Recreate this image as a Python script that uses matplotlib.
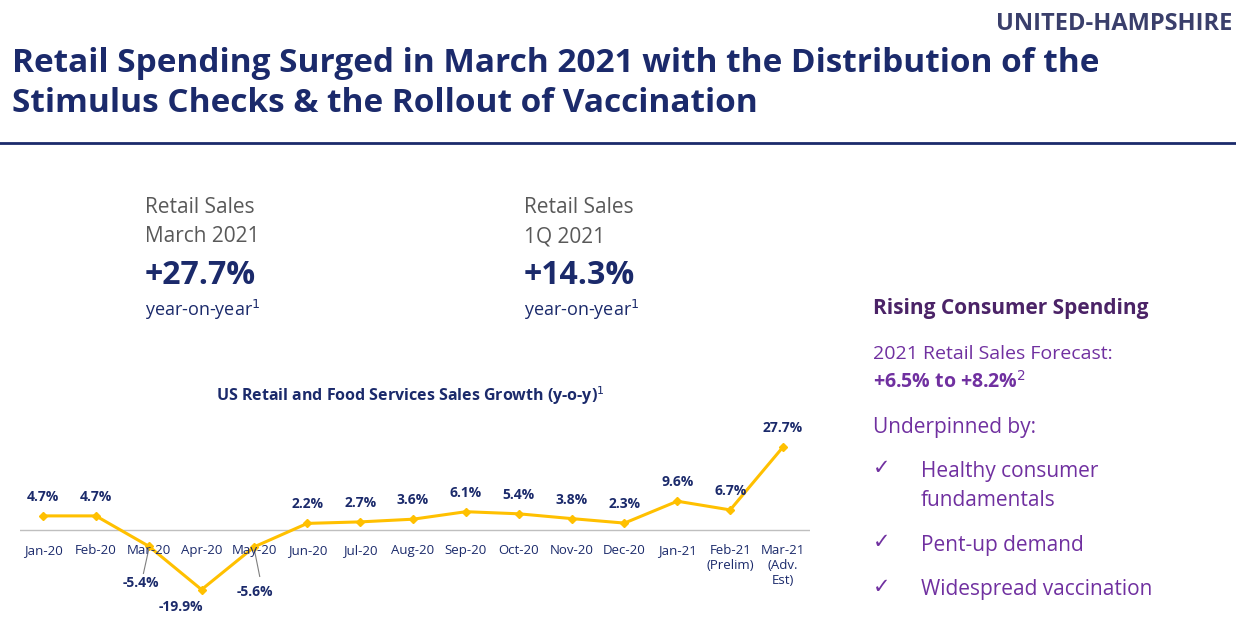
import matplotlib
matplotlib.use("Agg")
import matplotlib.pyplot as plt

months = ["Jan-20","Feb-20","Mar-20","Apr-20","May-20","Jun-20","Jul-20","Aug-20","Sep-20","Oct-20","Nov-20","Dec-20","Jan-21","Feb-21\n(Prelim)","Mar-21\n(Adv.\nEst)"]
growth = [4.7,4.7,-5.4,-19.9,-5.6,2.2,2.7,3.6,6.1,5.4,3.8,2.3,9.6,6.7,27.7]

W, H = 1236, 637
fig = plt.figure(figsize=(W/100, H/100), dpi=100)
plt.rcParams['font.family'] = ['Open Sans', 'DejaVu Sans']
navy = "#1b2a6b"
purple = "#7030a0"
gray = "#595959"

def t(x, y, s, **kw):
    fig.text(x/W, 1-y/H, s, **kw)

# header
t(12, 64, "Retail Spending Surged in March 2021 with the Distribution of the", fontsize=24, fontweight='bold', color=navy, va='center')
t(12, 104, "Stimulus Checks & the Rollout of Vaccination", fontsize=24, fontweight='bold', color=navy, va='center')
t(1232, 24, "UNITED-HAMPSHIRE", fontsize=17, fontweight='bold', color="#3a3f6b", va='center', ha='right')
fig.add_artist(plt.Line2D([0, 1], [1-143/H]*2, color=navy, lw=2))

# stats
t(145, 208, "Retail Sales", fontsize=15, color=gray, va='center')
t(145, 237, "March 2021", fontsize=15, color=gray, va='center')
t(145, 276, "+27.7%", fontsize=23, fontweight='bold', color=navy, va='center')
t(145, 310, "year-on-year$^1$", fontsize=13, color=navy, va='center')
t(524, 208, "Retail Sales", fontsize=15, color=gray, va='center')
t(524, 237, "1Q 2021", fontsize=15, color=gray, va='center')
t(524, 276, "+14.3%", fontsize=23, fontweight='bold', color=navy, va='center')
t(524, 310, "year-on-year$^1$", fontsize=13, color=navy, va='center')

# right panel
t(873, 308, "Rising Consumer Spending", fontsize=15, fontweight='bold', color="#4b2367", va='center')
t(873, 354, "2021 Retail Sales Forecast:", fontsize=14, color=purple, va='center')
t(873, 382, "+6.5% to +8.2%$^2$", fontsize=14, fontweight='bold', color=purple, va='center')
t(873, 428, "Underpinned by:", fontsize=15, color=purple, va='center')
for y, s in [(471, "Healthy consumer"), (500, "fundamentals"), (545, "Pent-up demand"), (590, "Widespread vaccination")]:
    t(921, y, s, fontsize=15, color=purple, va='center')
for y in [468, 542, 587]:
    t(873, y, "✓", fontsize=15, color=purple, va='center', family='DejaVu Sans')

# chart
t(410, 396, "US Retail and Food Services Sales Growth (y-o-y)$^1$", fontsize=11.5, fontweight='bold', color=navy, va='center', ha='center')
ax = fig.add_axes([20/W, 27/H, 790/W, 190/H])
ax.set_xlim(-0.435, 14.51)
ax.set_ylim(-26.7, 36.7)
ax.axis('off')
x = list(range(len(growth)))
ax.axhline(0, color="#bfbfbf", lw=1)
ax.plot(x, growth, color="#ffc000", lw=2.2, marker='D', ms=4)
for i, (m, v) in enumerate(zip(months, growth)):
    ax.text(i, -4.6, m, ha='center', va='top', fontsize=9.5, color=navy, linespacing=1.2)
    if v > 0:
        ax.text(i, v + 4, f"{v}%", ha='center', va='bottom', fontsize=10, fontweight='bold', color=navy)
ax.text(2-0.15, -17.7, "-5.4%", ha='center', va='center', fontsize=10, fontweight='bold', color=navy)
ax.plot([2, 1.9], [-6.5, -14.5], color='#7f7f7f', lw=0.8)
ax.text(2.6, -25.6, "-19.9%", ha='center', va='center', fontsize=10, fontweight='bold', color=navy)
ax.text(4.0, -20.6, "-5.6%", ha='center', va='center', fontsize=10, fontweight='bold', color=navy)
ax.plot([4, 4.1], [-6.7, -15.5], color='#7f7f7f', lw=0.8)

fig.savefig("out.png", dpi=100)
